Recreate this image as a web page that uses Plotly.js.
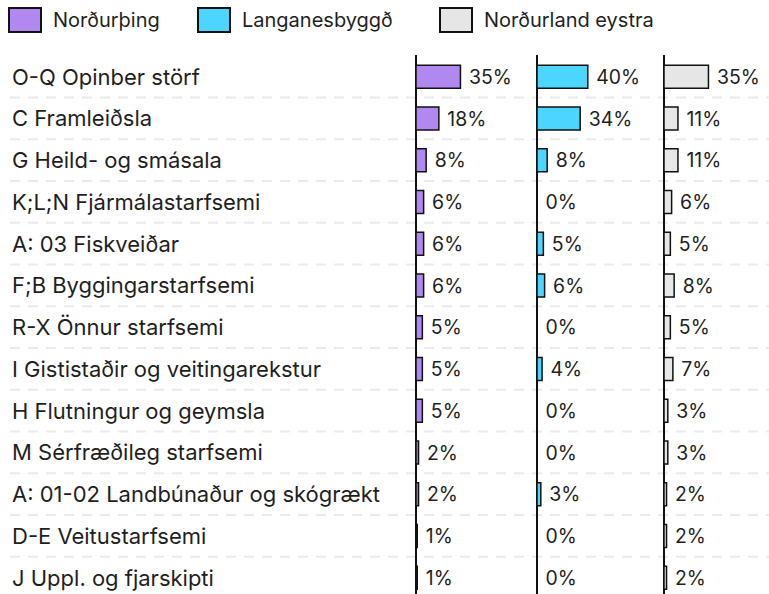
<!DOCTYPE html>
<html>
<head>
<meta charset="utf-8">
<script src="https://cdn.plot.ly/plotly-3.0.1.min.js"></script>
<style>html,body{margin:0;padding:0;background:#fff;}</style>
</head>
<body>
<div id="chart" style="width:769px;height:594px;"></div>
<script>
const categories = [
  "O-Q Opinber störf",
  "C Framleiðsla",
  "G Heild- og smásala",
  "K;L;N Fjármálastarfsemi",
  "A: 03 Fiskveiðar",
  "F;B Byggingarstarfsemi",
  "R-X Önnur starfsemi",
  "I Gististaðir og veitingarekstur",
  "H Flutningur og geymsla",
  "M Sérfræðileg starfsemi",
  "A: 01-02 Landbúnaður og skógrækt",
  "D-E Veitustarfsemi",
  "J Uppl. og fjarskipti"
];
const seriesNames = ["Norðurþing", "Langanesbyggð", "Norðurland eystra"];
const nordurthing = [35, 18, 8, 6, 6, 6, 5, 5, 5, 2, 2, 1, 1];
const langanesbyggd = [40, 34, 8, 0, 5, 6, 0, 4, 0, 0, 3, 0, 0];
const nordurlandEystra = [35, 11, 11, 6, 5, 8, 5, 7, 3, 3, 2, 2, 2];

const colors = ["#b088f0", "#4cd6ff", "#e6e6e6"];
const values = [nordurthing, langanesbyggd, nordurlandEystra];
const xaxes = ["x", "x2", "x3"];
const FONT = "Inter, 'Noto Sans', sans-serif";
const TEXT = "#1f1f1f";

const traces = values.map((v, i) => ({
  type: "bar",
  orientation: "h",
  name: seriesNames[i],
  y: categories,
  x: v,
  xaxis: xaxes[i],
  yaxis: "y",
  marker: { color: colors[i], line: { color: "#111", width: 1.5 } },
  texttemplate: "\u00a0%{x}%",
  textposition: "outside",
  cliponaxis: false,
  textfont: { family: FONT, size: 22, color: TEXT },
  hoverinfo: "skip",
  showlegend: false
}));

const W = 769, H = 594, TOP = 55;
const d0 = 416 / W, d1 = 537 / W, d2 = 664 / W;
const pxPerPct = 1.27;
function xax(dom, widthPx) {
  return {
    domain: dom,
    anchor: "y",
    range: [0, widthPx / pxPerPct],
    showgrid: false,
    showticklabels: false,
    ticks: "",
    zeroline: true,
    zerolinecolor: "#111",
    zerolinewidth: 1.5,
    fixedrange: true
  };
}

// category labels (left aligned)
const annotations = categories.map(c => ({
  xref: "paper", yref: "y", x: 10 / W, y: c,
  xanchor: "left", yanchor: "middle",
  text: c, showarrow: false,
  font: { family: FONT, size: 22, color: TEXT }
}));

// dashed separators between rows
const shapes = categories.slice(1).map((c, i) => ({
  type: "line", xref: "paper", yref: "y",
  x0: 10 / W, x1: 1, y0: i + 0.5, y1: i + 0.5,
  line: { color: "#ebebeb", width: 2, dash: "10px,8px" },
  layer: "below"
}));

// legend (swatch + label) built from series names and colours
const legendX = [9, 198, 440];
const plotH = H - TOP;
const py = px => 1 + (TOP - px) / plotH; // container pixel (from top) -> paper y
seriesNames.forEach((name, i) => {
  shapes.push({
    type: "rect", xref: "paper", yref: "paper",
    x0: legendX[i] / W, x1: (legendX[i] + 32) / W,
    y0: py(32), y1: py(8),
    fillcolor: colors[i],
    line: { color: "#111", width: 2 }
  });
  annotations.push({
    xref: "paper", yref: "paper",
    x: (legendX[i] + 42) / W, y: py(20),
    xanchor: "left", yanchor: "middle",
    text: name, showarrow: false,
    font: { family: FONT, size: 20, color: TEXT }
  });
});

const layout = {
  width: W, height: H,
  margin: { l: 0, r: 0, t: TOP, b: 0 },
  paper_bgcolor: "#ffffff",
  plot_bgcolor: "rgba(0,0,0,0)",
  font: { family: FONT, size: 20, color: TEXT },
  barmode: "group",
  bargap: 0.45,
  showlegend: false,
  xaxis: xax([d0, d1], 537 - 416),
  xaxis2: xax([d1, d2], 664 - 537),
  xaxis3: xax([d2, 1], 769 - 664),
  yaxis: {
    type: "category",
    categoryorder: "array",
    categoryarray: categories,
    range: [12.39, -0.52],
    autorange: false,
    showticklabels: false,
    showgrid: false,
    zeroline: false,
    ticks: "",
    fixedrange: true
  },
  annotations: annotations,
  shapes: shapes
};

Plotly.newPlot("chart", traces, layout, { displayModeBar: false, staticPlot: true });
</script>
</body>
</html>
